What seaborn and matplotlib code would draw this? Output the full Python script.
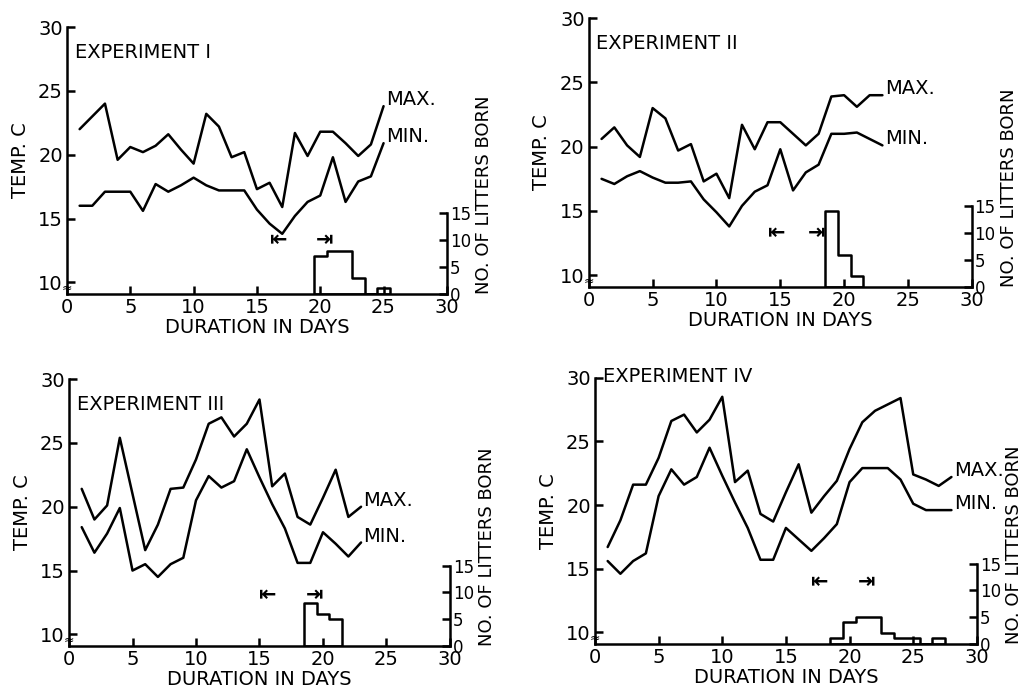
import numpy as np
import pandas as pd
import matplotlib.pyplot as plt
import seaborn as sns

sns.set_style("white")
plt.rcParams["font.family"] = ["DejaVu Sans"]
plt.rcParams["text.color"] = "black"
plt.rcParams["axes.labelcolor"] = "black"
plt.rcParams["xtick.color"] = "black"
plt.rcParams["ytick.color"] = "black"
plt.rcParams["axes.edgecolor"] = "black"

# %% sıcaklık verileri (gün başına max / min)
days_1 = list(range(1, 26))
max_1 = [22, 23, 24, 19.6, 20.6, 20.2, 20.7, 21.6, 20.4, 19.3, 23.2, 22.2, 19.8,
         20.2, 17.3, 17.8, 15.9, 21.7, 19.9, 21.8, 21.8, 20.9, 19.9, 20.8, 23.8]
min_1 = [16, 16, 17.1, 17.1, 17.1, 15.6, 17.7, 17.1, 17.6, 18.2, 17.6, 17.2, 17.2,
         17.2, 15.7, 14.6, 13.8, 15.2, 16.3, 16.8, 19.8, 16.3, 17.9, 18.3, 20.9]

days_2 = list(range(1, 24))
max_2 = [20.6, 21.5, 20.1, 19.2, 23.0, 22.2, 19.7, 20.2, 17.3, 17.9, 16.0, 21.7,
         19.8, 21.9, 21.9, 21.0, 20.1, 21.0, 23.9, 24.0, 23.1, 24.0, 24.0]
min_2 = [17.5, 17.1, 17.7, 18.1, 17.6, 17.2, 17.2, 17.3, 15.9, 14.9, 13.8, 15.4,
         16.5, 17.0, 19.8, 16.6, 18.0, 18.6, 21.0, 21.0, 21.1, 20.6, 20.1]

days_3 = list(range(1, 24))
max_3 = [21.4, 19.0, 20.1, 25.4, 21.0, 16.6, 18.6, 21.4, 21.5, 23.7, 26.5, 27.0,
         25.5, 26.5, 28.4, 21.6, 22.6, 19.2, 18.6, 20.7, 22.9, 19.2, 20.0]
min_3 = [18.4, 16.4, 17.9, 19.9, 15.0, 15.5, 14.5, 15.5, 16.0, 20.5, 22.4, 21.5,
         22.0, 24.5, 22.3, 20.2, 18.3, 15.6, 15.6, 18.0, 17.1, 16.1, 17.2]

days_4 = list(range(1, 29))
max_4 = [16.7, 18.8, 21.6, 21.6, 23.7, 26.6, 27.1, 25.7, 26.7, 28.5, 21.8, 22.7,
         19.3, 18.7, 21.0, 23.2, 19.4, 20.7, 21.9, 24.4, 26.5, 27.4, 27.9, 28.4,
         22.4, 22.0, 21.5, 22.2]
min_4 = [15.6, 14.6, 15.6, 16.2, 20.7, 22.8, 21.6, 22.2, 24.5, 22.3, 20.2, 18.2,
         15.7, 15.7, 18.2, 17.3, 16.4, 17.4, 18.5, 21.8, 22.9, 22.9, 22.9, 22.0,
         20.1, 19.6, 19.6, 19.6]

# %% doğan yavru sayıları
litter_days_1 = [20, 21, 22, 23, 24, 25]
litters_1 = [7, 8, 8, 3, 0, 1]
litter_days_2 = [19, 20, 21]
litters_2 = [14, 6, 2]
litter_days_3 = [19, 20, 21]
litters_3 = [8, 6, 5]
litter_days_4 = [19, 20, 21, 22, 23, 24, 25, 26, 27]
litters_4 = [1, 4, 5, 5, 2, 1, 1, 0, 1]

# beklenen doğum aralığı (ok işaretleri)
range_start = [16, 14, 15, 17]
range_end = [21, 18.5, 20, 22]
range_level = [10, 10, 9.5, 11.5]

titles = ["EXPERIMENT I", "EXPERIMENT II", "EXPERIMENT III", "EXPERIMENT IV"]
title_y = [28.0, 28.0, 28.0, 30.1]

panels = [
    (days_1, max_1, min_1, litter_days_1, litters_1),
    (days_2, max_2, min_2, litter_days_2, litters_2),
    (days_3, max_3, min_3, litter_days_3, litters_3),
    (days_4, max_4, min_4, litter_days_4, litters_4),
]
boxes = [
    [0.0654, 0.576, 0.371, 0.385],
    [0.575, 0.586, 0.374, 0.388],
    [0.0674, 0.068, 0.372, 0.385],
    [0.581, 0.071, 0.373, 0.384],
]

# %% grafik
fig = plt.figure(figsize=(10.24, 6.93), dpi=100)
lw = 1.8

for i, (days, tmax, tmin, ldays, lcount) in enumerate(panels):
    ax = fig.add_axes(boxes[i])
    ax2 = ax.twinx()

    sns.lineplot(x=days, y=tmax, color="black", linewidth=lw, ax=ax)
    sns.lineplot(x=days, y=tmin, color="black", linewidth=lw, ax=ax)
    ax.text(days[-1] + 0.2, tmax[-1] + 0.5, "MAX.", fontsize=14, ha="left", va="center")
    ax.text(days[-1] + 0.2, tmin[-1] + 0.5, "MIN.", fontsize=14, ha="left", va="center")
    ax.text(0.6, title_y[i], titles[i], fontsize=14, ha="left", va="center")

    sns.histplot(x=ldays, weights=lcount, discrete=True, element="step",
                 fill=True, color="black", facecolor="none", edgecolor="black",
                 linewidth=lw, ax=ax2)
    ax2.text(range_start[i], range_level[i], "⇤", fontsize=15, fontweight="bold",
             ha="left", va="center")
    ax2.text(range_end[i], range_level[i], "⇥", fontsize=15, fontweight="bold",
             ha="right", va="center")

    ax.set_xlim(0, 30)
    ax.set_ylim(9.1, 30)
    ax2.set_ylim(0, 49.8)

    ax.set_xticks([0, 5, 10, 15, 20, 25, 30])
    ax.set_yticks([10, 15, 20, 25, 30])
    ax2.set_yticks([0, 5, 10, 15])
    ax.tick_params(bottom=True, left=True, direction="in", length=6, width=lw,
                   labelsize=14, pad=3)
    ax2.tick_params(right=True, direction="in", length=6, width=lw,
                    labelsize=12, pad=2)

    for s in ["top", "right"]:
        ax.spines[s].set_visible(False)
    for s in ["top", "left", "bottom"]:
        ax2.spines[s].set_visible(False)
    ax.spines["left"].set_linewidth(lw)
    ax.spines["bottom"].set_linewidth(lw)
    ax2.spines["right"].set_linewidth(lw)
    ax2.spines["right"].set_bounds(0, 15)

    # kırık eksen işareti
    ax.text(0, 9.5, "≈", fontsize=9, ha="center", va="center")

    ax.set_xlabel("DURATION IN DAYS", fontsize=14, labelpad=1)
    ax.set_ylabel("TEMP. C", fontsize=14, labelpad=6)
    ax2.set_ylabel("NO. OF LITTERS BORN", fontsize=13, labelpad=3, loc="bottom")

fig.savefig("out.png", dpi=100)
